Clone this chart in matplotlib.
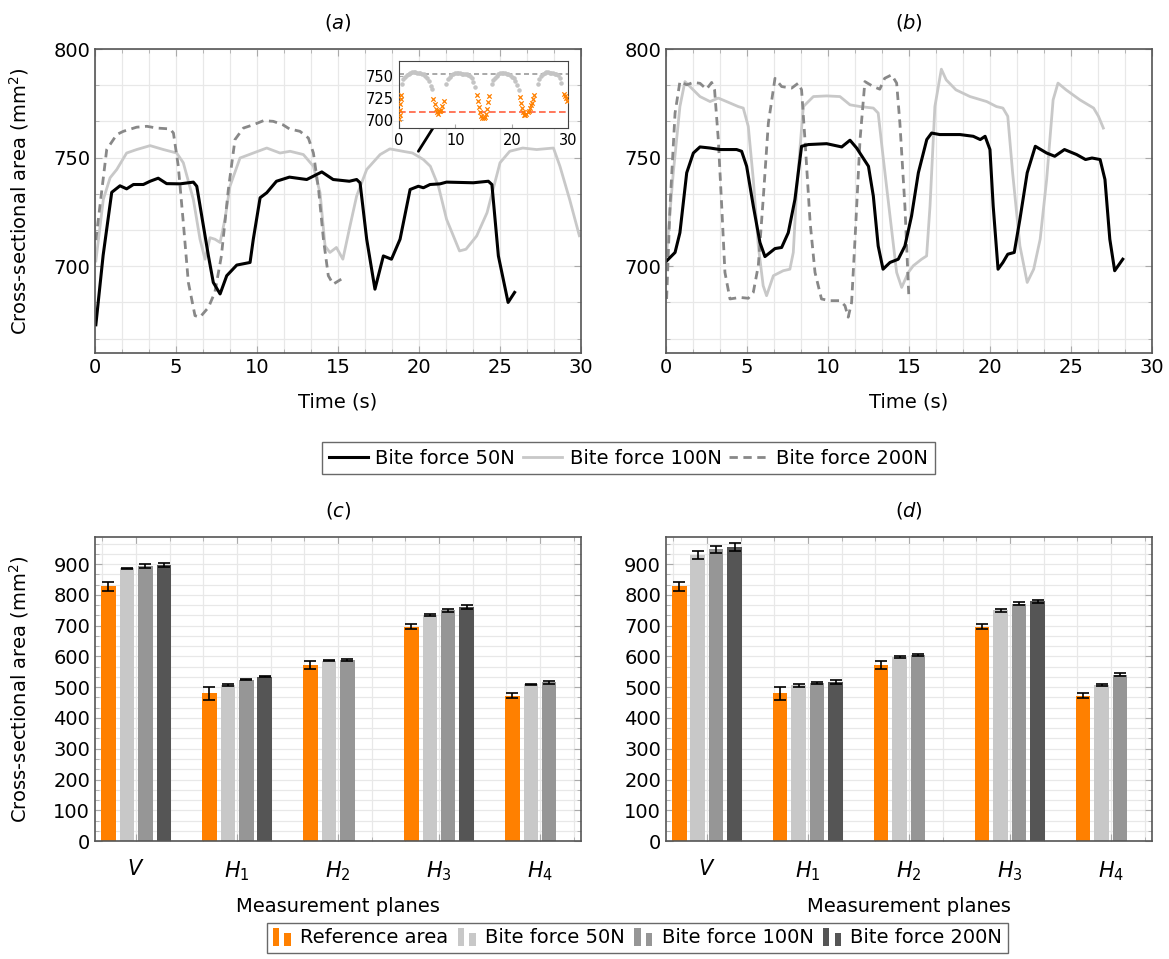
import numpy as np
import matplotlib
matplotlib.use('Agg')
import matplotlib.pyplot as plt
from matplotlib.ticker import MultipleLocator, FixedLocator
from matplotlib.legend_handler import HandlerBase
from matplotlib.patches import Rectangle
from matplotlib.lines import Line2D

plt.rcParams['font.family'] = ['DejaVu Sans']
plt.rcParams['mathtext.fontset'] = 'dejavusans'

# ---------------- dados: curvas (a) ----------------
t_a50 = [0.05, 0.5, 1.03, 1.54, 1.95, 2.37, 2.98, 3.4, 3.9, 4.42, 5.25, 6.07, 6.28, 6.69, 7.0, 7.3,
         7.72, 8.13, 8.75, 9.57, 9.77, 10.19, 10.6, 11.2, 12.0, 13.07, 14.0, 14.7, 15.7, 16.15, 16.36,
         16.77, 17.28, 17.8, 18.3, 18.83, 19.45, 19.96, 20.27, 20.68, 21.3, 21.7, 23.35, 24.28, 24.5,
         24.9, 25.5, 25.9]
v_a50 = [673, 705, 734, 737, 735.6, 737.6, 737.6, 739.1, 740.5, 738, 737.9, 738.7, 736.8, 718.5, 704.7,
         692.5, 687.2, 695.6, 700.5, 701.7, 712.4, 731.5, 733.8, 739.1, 741, 739.9, 743.4, 739.9, 739.1,
         739.9, 738.4, 712.4, 689.4, 704.7, 703.2, 712.4, 735.3, 736.8, 736.1, 737.6, 737.9, 738.7, 738.4,
         739.1, 737.6, 704.7, 683.3, 687.9]

t_a100 = [0.05, 0.51, 0.93, 1.34, 1.95, 2.57, 3.4, 4.22, 5.04, 5.45, 6.07, 6.48, 6.79, 7.1, 7.4, 7.72,
          8.02, 8.33, 8.95, 9.77, 10.6, 11.42, 12.04, 12.86, 13.48, 13.89, 14.2, 14.5, 14.9, 15.3, 15.74,
          16.15, 16.77, 17.6, 18.2, 19.0, 19.6, 20.27, 20.7, 21.2, 21.7, 22.5, 22.9, 23.56, 24.2, 25.0,
          25.6, 26.4, 27.26, 28.3, 28.7, 29.3, 29.9]
v_a100 = [702.4, 730.7, 740.7, 744.5, 752.1, 753.7, 755.5, 753.7, 752.1, 747.6, 730.7, 712.4, 703.2,
          713.1, 712.4, 710.9, 721.6, 736.8, 749.8, 752.1, 754.4, 752.1, 752.9, 751.4, 746, 733.8, 709.3,
          706.3, 708.6, 703.2, 718.5, 732.3, 744.5, 751.4, 754, 752.9, 752.1, 749.1, 746, 736.8, 721.6,
          707, 707.8, 713.9, 724.6, 747.6, 752.9, 754.4, 753.7, 754.4, 746, 730.7, 714]

t_a200 = [0.05, 0.72, 1.34, 1.75, 2.57, 3.2, 3.8, 4.63, 4.84, 5.14, 5.45, 5.76, 6.17, 6.48, 7.0, 7.4,
          7.8, 8.23, 8.64, 9.16, 9.77, 10.4, 11.0, 11.6, 12.0, 12.65, 13.17, 13.48, 13.8, 14.1, 14.4,
          14.7, 15.2]
v_a200 = [712, 753.7, 760.6, 762.1, 764, 764.4, 763.6, 763.2, 761.3, 746, 720, 692.5, 677.2, 676.5,
          681, 688, 704.7, 735.3, 758.3, 763.6, 765.1, 767, 766.7, 765.1, 763.2, 762.1, 759, 752.1,
          735.3, 712.4, 695.6, 691.7, 694]

# ---------------- dados: curvas (b) ----------------
t_b50 = [0.04, 0.56, 0.86, 1.28, 1.69, 2.1, 2.72, 3.33, 4.36, 4.67, 4.98, 5.39, 5.8, 6.11, 6.73, 7.14,
         7.55, 7.96, 8.37, 8.79, 9.92, 10.85, 11.36, 11.77, 12.5, 12.8, 13.1, 13.4, 13.83, 14.34, 14.75,
         15.16, 15.58, 16.1, 16.4, 16.9, 18.15, 18.97, 19.4, 19.7, 20.0, 20.2, 20.5, 20.8, 21.1, 21.5,
         21.85, 22.3, 22.8, 23.5, 24.0, 24.6, 25.35, 25.9, 26.3, 26.8, 27.1, 27.4, 27.7, 28.2]
v_b50 = [702.4, 706.3, 715.4, 743, 752.1, 754.9, 754.4, 753.7, 753.7, 752.9, 746, 727.7, 710.9, 704.4,
         708.1, 708.6, 715.4, 730.7, 755.2, 756, 756.4, 754.9, 758, 754.4, 746, 732.3, 709.3, 698.6,
         701.7, 703.2, 709.3, 723.1, 743, 758.3, 761.3, 760.6, 760.6, 759.8, 758.3, 759.8, 753.7, 727.7,
         698.6, 701.7, 705.5, 706.3, 721.6, 743, 755.2, 752.1, 750.6, 753.7, 751.4, 749.1, 749.8, 749.1,
         739.9, 712.4, 697.9, 703.2]

t_b100 = [0.04, 0.45, 0.86, 1.17, 1.48, 2.1, 2.72, 3.23, 3.74, 4.46, 4.77, 5.08, 5.39, 5.7, 6.0, 6.21,
          6.63, 7.24, 7.65, 7.86, 8.07, 8.48, 9.1, 9.92, 10.74, 11.36, 11.98, 12.8, 13.1, 13.4, 13.83,
          14.24, 14.55, 14.96, 15.27, 15.78, 16.09, 16.3, 16.6, 17.0, 17.3, 17.9, 18.77, 19.8, 20.4,
          20.8, 21.1, 21.4, 21.85, 22.3, 22.7, 23.1, 23.5, 23.9, 24.2, 24.7, 25.55, 26.4, 26.7, 27.0]
v_b100 = [706.3, 743, 773.5, 785, 782.7, 778.1, 775.8, 777.4, 775.8, 773.5, 772.8, 764.4, 739.9, 709.3,
          691, 686.4, 695.6, 697.9, 698.6, 706.3, 735.3, 773.5, 778.1, 778.4, 778.1, 774.3, 773.5, 772.8,
          770.5, 750.6, 723.1, 697.1, 690.2, 697.1, 700.2, 703.2, 704.7, 727.7, 773.5, 790.7, 785.8,
          781.2, 778.1, 775.8, 773.5, 772.8, 769, 743, 709.3, 692.5, 698.6, 712.4, 739.9, 776.6, 784.3,
          781.2, 776.6, 772.8, 769, 763.6]

t_b200 = [0.04, 0.25, 0.56, 0.86, 1.28, 1.69, 2.1, 2.5, 2.82, 3.0, 3.23, 3.44, 3.64, 3.95, 4.57, 5.08,
          5.39, 5.7, 6.0, 6.32, 6.73, 7.14, 7.76, 8.17, 8.37, 8.58, 8.9, 9.2, 9.6, 10.1, 10.74, 11.05,
          11.25, 11.46, 11.67, 11.98, 12.28, 12.8, 13.2, 13.5, 13.93, 14.24, 14.44, 14.75, 15.0]
v_b200 = [684.9, 727.7, 770.5, 785, 783.5, 784.6, 784.2, 781.5, 784.6, 781.2, 758.3, 727.7, 697.1, 684.9,
          685.6, 685.2, 687.9, 700.2, 730.7, 765.9, 786.5, 782.7, 782, 784.3, 781.2, 758.3, 720, 697.1,
          684.9, 684.1, 684.1, 681.8, 676.5, 683.3, 712.4, 758.3, 785, 782.7, 781.5, 786.5, 788.1, 784.3,
          765.9, 727.7, 684.9]

# ---------------- dados: inset ----------------
t_ins_g = [0.5, 0.8, 1.1, 1.4, 1.7, 2.0, 2.3, 2.6, 2.9, 3.2, 3.5, 3.8, 4.1, 4.4, 4.7, 5.0, 5.3, 5.6, 5.9,
           8.4, 8.7, 9.0, 9.3, 9.6, 9.9, 10.2, 10.5, 10.8, 11.1, 11.4, 11.7, 12.0, 12.3, 12.6, 12.9, 13.2, 13.5,
           16.4, 16.7, 17.0, 17.3, 17.6, 17.9, 18.2, 18.5, 18.8, 19.1, 19.4, 19.7, 20.0, 20.3, 20.6, 20.9, 21.2,
           24.6, 24.9, 25.2, 25.5, 25.8, 26.1, 26.4, 26.7, 27.0, 27.3, 27.6, 27.9, 28.2, 28.5, 28.8]
v_ins_g = [741, 746, 749, 751, 752, 753, 754, 754, 754, 753.5, 753, 753, 752.5, 752, 750, 747, 744, 739, 735,
           741, 746, 749, 751, 752, 753, 753.5, 753, 753, 752.5, 752, 752, 751.5, 751, 750, 747, 743, 738,
           741, 745, 748, 750, 752, 753, 753.5, 753.5, 753, 752.5, 752, 751, 749, 747, 744, 740, 734,
           741, 746, 750, 752, 753, 754, 754, 753.5, 753, 753, 752.5, 752, 751, 748, 742]
t_ins_o = [0.05, 0.1, 0.15, 0.2, 0.3, 0.4,
           6.1, 6.3, 6.5, 6.7, 6.9, 7.1, 7.3, 7.5, 7.7, 7.9,
           13.8, 14.0, 14.2, 14.4, 14.6, 14.8, 15.0, 15.2, 15.4, 15.6, 15.8, 16.0,
           21.4, 21.6, 21.8, 22.0, 22.2, 22.4, 22.6, 22.8, 23.0, 23.2, 23.4, 23.6, 23.8, 24.0,
           29.2, 29.4, 29.6, 29.8]
v_ins_o = [702, 706, 712, 718, 724, 729,
           724, 718, 713, 709, 707, 710, 711, 712, 716, 722,
           729, 722, 715, 709, 705, 703, 703, 704, 707, 713, 721, 727,
           726, 720, 714, 709, 706, 706, 707, 709, 711, 714, 717, 720, 724, 728,
           730, 727, 725, 722]
ref_peak = 751.5
ref_trough = 709

# ---------------- dados: barras ----------------
planos = [r'$V$', r'$H_1$', r'$H_2$', r'$H_3$', r'$H_4$']
ref_area = [828, 480, 572, 696, 472]
ref_err = [15, 22, 13, 8, 8]

c_50 = [886, 506, 586, 735, 509]
c_50_err = [3, 3, 2, 3, 2]
c_100 = [893, 525, 589, 750, 516]
c_100_err = [6, 2, 3, 5, 4]
c_200 = [897, 534, np.nan, 760, np.nan]
c_200_err = [6, 2, 0, 6, 0]

d_50 = [929, 506, 598, 750, 507]
d_50_err = [13, 5, 4, 4, 4]
d_100 = [948, 513, 605, 771, 541]
d_100_err = [12, 4, 4, 5, 6]
d_200 = [956, 517, np.nan, 780, np.nan]
d_200_err = [12, 6, 0, 5, 0]

laranja = '#ff8000'
cinza_claro = '#c8c8c8'
cinza_medio = '#969696'
cinza_escuro = '#555555'
FS = 14


def estilo_eixo(ax):
    for s in ax.spines.values():
        s.set_color('#555555')
        s.set_linewidth(1.2)
    ax.tick_params(which='both', direction='in', top=True, right=True, colors='#aaaaaa',
                   labelcolor='black', labelsize=FS)
    ax.tick_params(which='major', length=5)
    ax.tick_params(which='minor', length=3)
    ax.grid(which='both', color='#e8e8e8', lw=0.9)
    ax.set_axisbelow(True)


fig = plt.figure(figsize=(11.69, 9.59), dpi=100)

ax_a = fig.add_axes([0.0813, 0.6319, 0.4157, 0.317])
ax_b = fig.add_axes([0.5697, 0.6319, 0.4157, 0.317])
ax_c = fig.add_axes([0.0813, 0.1230, 0.4157, 0.317])
ax_d = fig.add_axes([0.5697, 0.1230, 0.4157, 0.317])

for ax, curvas, letra in [(ax_a, [(t_a50, v_a50), (t_a100, v_a100), (t_a200, v_a200)], 'a'),
                          (ax_b, [(t_b50, v_b50), (t_b100, v_b100), (t_b200, v_b200)], 'b')]:
    estilo_eixo(ax)
    (t50, v50), (t100, v100), (t200, v200) = curvas
    ax.plot(t100, v100, color=cinza_claro, lw=2.0, label='Bite force 100N')
    ax.plot(t200, v200, color='#888888', lw=2.0, ls=(0, (3, 2)), label='Bite force 200N')
    ax.plot(t50, v50, color='black', lw=2.2, label='Bite force 50N')
    ax.set_xlim(0, 30)
    ax.set_ylim(660, 800)
    ax.xaxis.set_major_locator(MultipleLocator(5))
    ax.xaxis.set_minor_locator(MultipleLocator(5 / 3))
    ax.yaxis.set_major_locator(FixedLocator([700, 750, 800]))
    ax.yaxis.set_minor_locator(MultipleLocator(50 / 3))
    ax.set_xlabel('Time (s)', fontsize=FS)
    ax.xaxis.set_label_coords(0.5, -0.13)
    ax.set_title(r'($%s$)' % letra, fontsize=FS, pad=15)

ax_a.set_ylabel('Cross-sectional area (mm$^2$)', fontsize=FS)
ax_a.yaxis.set_label_coords(-0.132, 0.5)

# inset em (a)
ax_in = fig.add_axes([0.3413, 0.8662, 0.1448, 0.0705])
ax_in.scatter(t_ins_g, v_ins_g, s=5, color='#c4c4c4', zorder=3)
ax_in.scatter(t_ins_o, v_ins_o, s=10, marker='x', color=laranja, lw=0.9, zorder=3)
ax_in.axhline(ref_peak, color='#999999', ls=(0, (3, 2)), lw=1.2)
ax_in.axhline(ref_trough, color='#ff6040', ls=(0, (4, 2)), lw=1.2)
ax_in.set_xlim(0, 30)
ax_in.set_ylim(691, 767)
ax_in.set_xticks([0, 10, 20, 30])
ax_in.set_yticks([700, 725, 750])
for s in ax_in.spines.values():
    s.set_color('#444444')
ax_in.tick_params(labelsize=10.5, direction='in', length=3, colors='#aaaaaa', labelcolor='black')
ax_in.grid(False)
ax_a.annotate('', xy=(19.96, 752.9), xytext=(0.2, 0.0), textcoords=ax_in.transAxes,
              arrowprops=dict(arrowstyle='-', color='black', lw=2, shrinkA=0, shrinkB=0))

# legenda superior
fig.legend(handles=[Line2D([], [], color='black', lw=2.2),
                    Line2D([], [], color=cinza_claro, lw=2.0),
                    Line2D([], [], color='#888888', lw=2.0, ls=(0, (3, 2)))],
           labels=['Bite force 50N', 'Bite force 100N', 'Bite force 200N'],
           loc='center left', bbox_to_anchor=(0.267, 0.5224), ncol=3, fontsize=FS,
           frameon=True, fancybox=False, edgecolor='#444444', handlelength=2.0,
           handletextpad=0.4, columnspacing=0.4, borderpad=0.35)

# ---------------- barras ----------------
x = np.arange(len(planos))
larg = 0.1436
passo = 0.183
for ax, series, letra in [(ax_c, [(c_50, c_50_err), (c_100, c_100_err), (c_200, c_200_err)], 'c'),
                          (ax_d, [(d_50, d_50_err), (d_100, d_100_err), (d_200, d_200_err)], 'd')]:
    estilo_eixo(ax)
    cores = [laranja, cinza_claro, cinza_medio, cinza_escuro]
    todos = [(ref_area, ref_err)] + series
    for i, ((vals, errs), cor) in enumerate(zip(todos, cores)):
        pos = x + (i - 1.5) * passo
        vals = np.array(vals, dtype=float)
        errs = np.array(errs, dtype=float)
        ok = ~np.isnan(vals)
        ax.bar(pos[ok], vals[ok], width=larg, color=cor, zorder=2)
        ax.errorbar(pos[ok], vals[ok], yerr=errs[ok], fmt='none', ecolor='black',
                    elinewidth=1.2, capsize=4, capthick=1.2, zorder=3)
    ax.set_xlim(-0.406, 4.406)
    ax.set_ylim(0, 988)
    ax.set_xticks(x)
    ax.set_xticklabels(planos, fontsize=FS + 1)
    ax.xaxis.set_minor_locator(MultipleLocator(1 / 3))
    ax.yaxis.set_major_locator(FixedLocator(np.arange(0, 901, 100)))
    ax.yaxis.set_minor_locator(MultipleLocator(100 / 3))
    ax.tick_params(axis='x', which='major', pad=13)
    ax.set_xlabel('Measurement planes', fontsize=FS)
    ax.xaxis.set_label_coords(0.5, -0.184)
    ax.set_title(r'($%s$)' % letra, fontsize=FS, pad=15)

ax_c.set_ylabel('Cross-sectional area (mm$^2$)', fontsize=FS)
ax_c.yaxis.set_label_coords(-0.132, 0.5)


class DuasBarras(HandlerBase):
    def create_artists(self, legend, orig_handle, xdescent, ydescent, width, height, fontsize, trans):
        cor = orig_handle.get_facecolor()
        w = width * 0.32
        r1 = Rectangle((-xdescent, -ydescent - 0.2 * height), w, height * 1.35,
                       facecolor=cor, edgecolor='none', transform=trans)
        r2 = Rectangle((-xdescent + 0.6 * width, -ydescent - 0.2 * height), w, height * 0.95,
                       facecolor=cor, edgecolor='none', transform=trans)
        return [r1, r2]


alcas = [Rectangle((0, 0), 1, 1, facecolor=c) for c in [laranja, cinza_claro, cinza_medio, cinza_escuro]]
fig.legend(handles=alcas,
           labels=['Reference area', 'Bite force 50N', 'Bite force 100N', 'Bite force 200N'],
           handler_map={Rectangle: DuasBarras()},
           loc='center', bbox_to_anchor=(0.5453, 0.0219), ncol=4, fontsize=FS,
           frameon=True, fancybox=False, edgecolor='#444444', handlelength=1.0,
           handletextpad=0.4, columnspacing=0.5, borderpad=0.3)

plt.savefig('out.png', dpi=100)
